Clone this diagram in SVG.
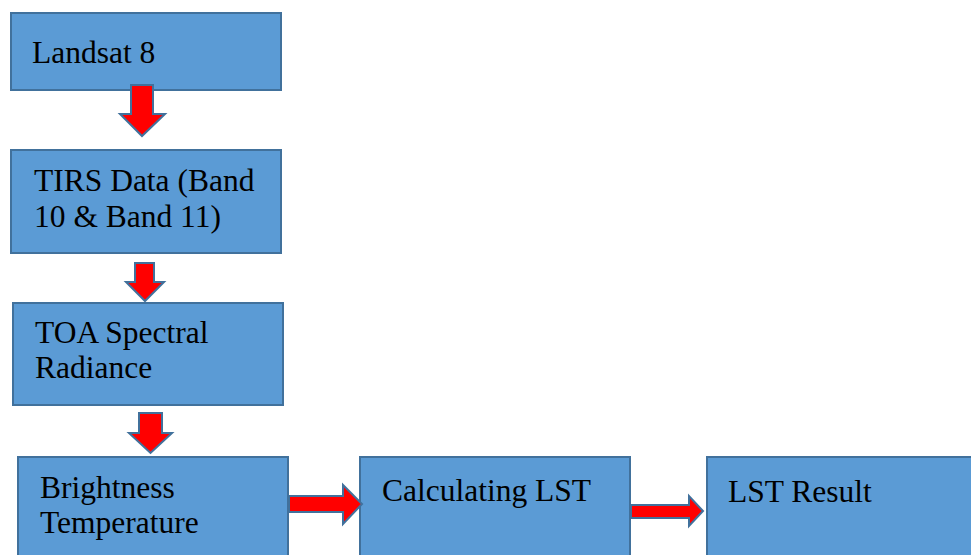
<svg xmlns="http://www.w3.org/2000/svg" width="971" height="555" viewBox="0 0 971 555">
<style>
.box{fill:#5B9BD5;stroke:#41719C;stroke-width:2}
.arr{fill:#FF0000;stroke:#41719C;stroke-width:2;stroke-linejoin:miter}
.t{font-family:'Liberation Serif','Times New Roman','DejaVu Serif',serif;font-size:31.5px;fill:#000}
</style>
<rect width="971" height="555" fill="#fff"/>
<g id="n1"><rect class="box" x="11" y="13" width="270" height="77"/><text class="t" x="32" y="63">Landsat 8</text></g>
<g id="n2"><rect class="box" x="11" y="150" width="270" height="103"/><text class="t" x="34" y="191">TIRS Data (Band</text><text class="t" x="34" y="227">10 &amp; Band 11)</text></g>
<g id="n3"><rect class="box" x="13" y="303" width="270" height="102"/><text class="t" x="35" y="343">TOA Spectral</text><text class="t" x="35" y="378">Radiance</text></g>
<g id="n4"><rect class="box" x="18" y="457" width="270" height="110"/><text class="t" x="40" y="498">Brightness</text><text class="t" x="40" y="533">Temperature</text></g>
<g id="n5"><rect class="box" x="360" y="457" width="270" height="110"/><text class="t" x="382" y="501">Calculating LST</text></g>
<g id="n6"><rect class="box" x="707" y="457" width="280" height="110"/><text class="t" x="728" y="502">LST Result</text></g>
<g id="connectors">
<polygon class="arr" points="131,85 153,85 153,114 165,114 142,136 120,114 131,114"/>
<polygon class="arr" points="135,263 154,263 154,282 164,282 145,301 126,282 135,282"/>
<polygon class="arr" points="139,413 162,413 162,433 172,433 150.5,453 129,433 139,433"/>
<polygon class="arr" points="289,496 343,496 343,485 362,504 343,524 343,512 289,512"/>
<polygon class="arr" points="631,505 689,505 689,496 703,511 689,526 689,518 631,518"/>
</g>
</svg>
